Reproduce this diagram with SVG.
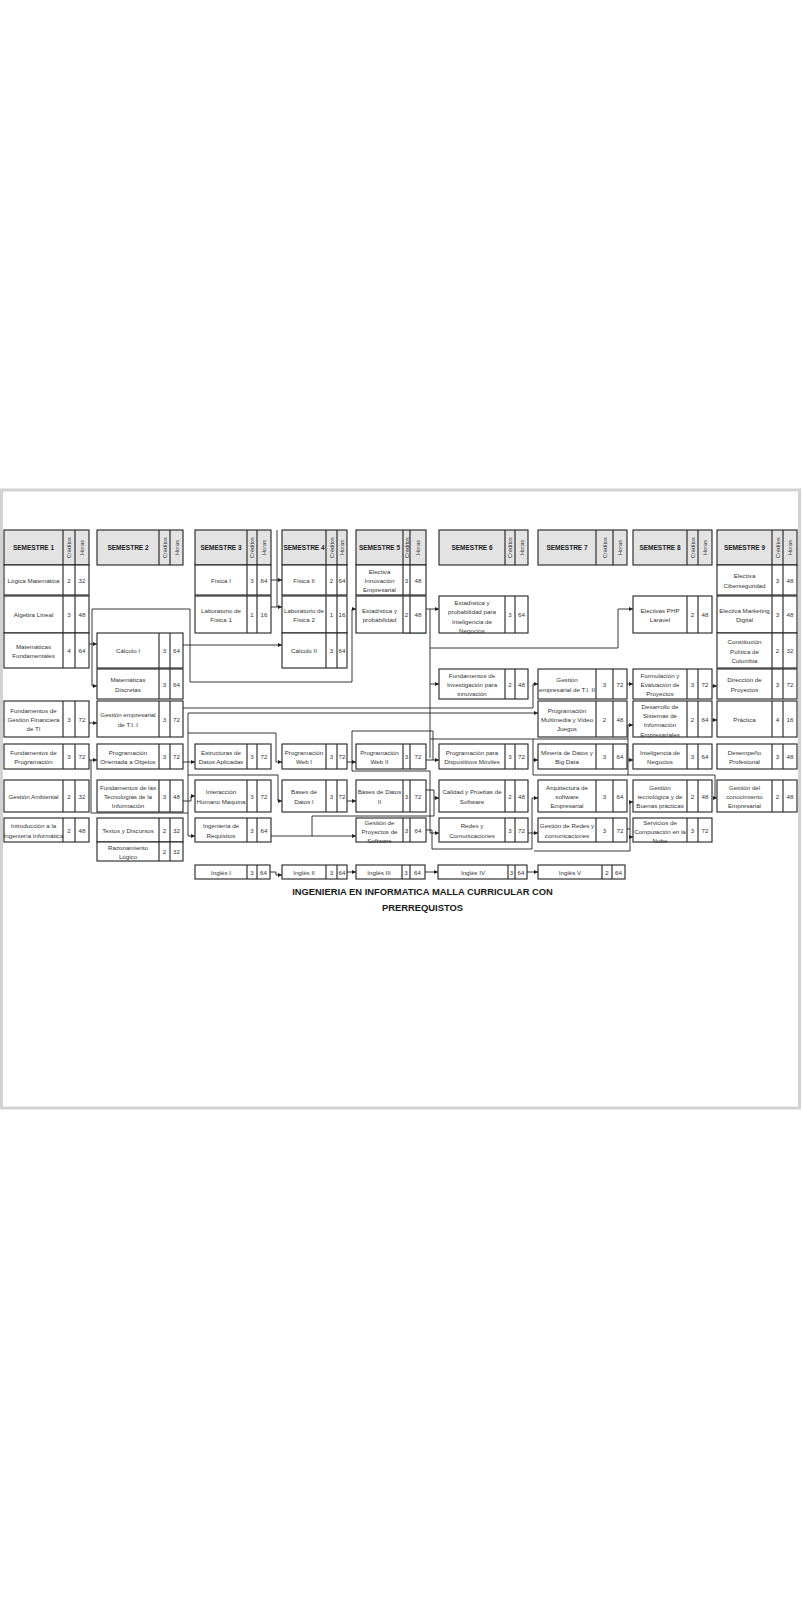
<svg xmlns="http://www.w3.org/2000/svg" width="803" height="1600" viewBox="0 0 803 1600">
<style>
text{font-family:"Liberation Sans",Arial,sans-serif;fill:#333}
.box{fill:#fff;stroke:#222;stroke-width:1.1}
.hd{fill:#e3e3e3}
.dv{fill:none;stroke:#222;stroke-width:1.1}
.t{font-size:6.2px;text-anchor:middle;dominant-baseline:central}
.h{font-size:6.5px;font-weight:bold;text-anchor:middle;dominant-baseline:central;fill:#222}
.r{font-size:5.6px;text-anchor:middle;dominant-baseline:central}
.ttl{font-size:9.4px;font-weight:bold;text-anchor:middle;dominant-baseline:central;fill:#1a1a1a}
.cn path{fill:none;stroke:#222;stroke-width:0.9}
.cn .a{marker-end:url(#ar)}
.cn .g{stroke:#3a9a5a;stroke-width:1.2}
</style>
<defs>
<marker id="ar" viewBox="0 0 6 6" refX="6" refY="3" markerWidth="4" markerHeight="4" markerUnits="userSpaceOnUse" orient="auto"><path d="M0,0L6,3L0,6z" fill="#222"/></marker>
</defs>
<rect width="803" height="1600" fill="#fff"/>
<rect x="1.5" y="490" width="798" height="618" fill="#fff" stroke="#d2d2d2" stroke-width="3"/>

<g id="headers">
<g id="h1"><rect class="box hd" x="4" y="530" width="85" height="35"/><path class="dv" d="M63 530v35M75 530v35"/><text class="h" x="33.5" y="547.5">SEMESTRE 1</text><text class="r" transform="translate(69 547.5) rotate(-90)">Créditos</text><text class="r" transform="translate(82 547.5) rotate(-90)">Horas</text></g>
<g id="h2"><rect class="box hd" x="97" y="530" width="86" height="35"/><path class="dv" d="M159 530v35M170 530v35"/><text class="h" x="128" y="547.5">SEMESTRE 2</text><text class="r" transform="translate(164.5 547.5) rotate(-90)">Créditos</text><text class="r" transform="translate(176.5 547.5) rotate(-90)">Horas</text></g>
<g id="h3"><rect class="box hd" x="195" y="530" width="76" height="35"/><path class="dv" d="M247 530v35M257 530v35"/><text class="h" x="221" y="547.5">SEMESTRE 3</text><text class="r" transform="translate(252 547.5) rotate(-90)">Créditos</text><text class="r" transform="translate(264 547.5) rotate(-90)">Horas</text></g>
<g id="h4"><rect class="box hd" x="282" y="530" width="65" height="35"/><path class="dv" d="M326 530v35M337 530v35"/><text class="h" x="304" y="547.5">SEMESTRE 4</text><text class="r" transform="translate(331.5 547.5) rotate(-90)">Créditos</text><text class="r" transform="translate(342 547.5) rotate(-90)">Horas</text></g>
<g id="h5"><rect class="box hd" x="356" y="530" width="70" height="35"/><path class="dv" d="M403 530v35M410 530v35"/><text class="h" x="379.5" y="547.5">SEMESTRE 5</text><text class="r" transform="translate(406.5 547.5) rotate(-90)">Créditos</text><text class="r" transform="translate(418 547.5) rotate(-90)">Horas</text></g>
<g id="h6"><rect class="box hd" x="439" y="530" width="89" height="35"/><path class="dv" d="M505 530v35M515 530v35"/><text class="h" x="472" y="547.5">SEMESTRE 6</text><text class="r" transform="translate(510 547.5) rotate(-90)">Créditos</text><text class="r" transform="translate(521.5 547.5) rotate(-90)">Horas</text></g>
<g id="h7"><rect class="box hd" x="538" y="530" width="89" height="35"/><path class="dv" d="M596 530v35M613 530v35"/><text class="h" x="567" y="547.5">SEMESTRE 7</text><text class="r" transform="translate(604.5 547.5) rotate(-90)">Créditos</text><text class="r" transform="translate(620 547.5) rotate(-90)">Horas</text></g>
<g id="h8"><rect class="box hd" x="633" y="530" width="79" height="35"/><path class="dv" d="M687 530v35M698 530v35"/><text class="h" x="660" y="547.5">SEMESTRE 8</text><text class="r" transform="translate(692.5 547.5) rotate(-90)">Créditos</text><text class="r" transform="translate(705 547.5) rotate(-90)">Horas</text></g>
<g id="h9"><rect class="box hd" x="717" y="530" width="80" height="35"/><path class="dv" d="M772 530v35M783 530v35"/><text class="h" x="744.5" y="547.5">SEMESTRE 9</text><text class="r" transform="translate(777.5 547.5) rotate(-90)">Créditos</text><text class="r" transform="translate(790 547.5) rotate(-90)">Horas</text></g>
</g>

<g id="connectors" class="cn">
<path class="a" d="M89 644H97"/>
<path class="a" d="M92 644V686H97"/>
<path class="a" d="M92 644V609H190V682H352V609H356"/>
<path class="a" d="M183 645H282"/>
<path class="a" d="M271 580H282"/>
<path class="a" d="M271 607H282"/>
<path d="M277 530V607"/>
<path class="a" d="M89 723H97"/>
<path class="a" d="M89 760H97"/>
<path d="M91 760V813H188"/>
<path class="a" d="M183 762H195"/>
<path class="a" d="M183 801H191V796H195"/>
<path class="a" d="M183 708H533V684H538"/>
<path class="a" d="M188 713H538"/>
<path class="a" d="M188 713V836H195"/>
<path class="a" d="M188 733H276V762H282"/>
<path class="a" d="M188 775H278V801H282"/>
<path class="a" d="M347 762H356"/>
<path class="a" d="M352 762V731H433V760H439"/>
<path d="M426 760H433"/>
<path class="a" d="M352 762V771H430V833H439"/>
<path class="a" d="M347 801H356"/>
<path class="a" d="M426 609H439"/>
<path class="a" d="M430 609V684H439"/>
<path d="M430 684V758"/>
<path class="a" d="M430 648H618V609H633"/>
<path class="a" d="M430 739H628V725H633"/>
<path class="a" d="M628 739V760H633"/>
<path d="M628 760V775"/>
<path class="a" d="M533 739V760H538"/>
<path class="a" d="M533 760V775H715V798H717"/>
<path class="a" d="M426 790H434V798H439"/>
<path class="a" d="M271 836H356"/>
<path d="M312 836V816H434V798"/>
<path class="a" d="M528 833H538"/>
<path d="M426 830H432V849H532"/>
<path class="a" d="M532 849V798H538"/>
<path class="a" d="M534 851H630V802H633"/>
<path class="a" d="M630 837H633"/>
<path d="M627 829H630"/>
<path class="a" d="M627 684H633"/>
<path class="a" d="M712 686H717"/>
<path class="a" d="M712 720H717"/>
<path class="a" d="M270 872H276V875H282"/>
<path class="a" d="M347 872H356"/>
<path class="a" d="M425 872H438"/>
<path class="a" d="M527 872H538"/>
<path class="g" d="M403 633H426"/>
</g>

<g id="sem1">
<g id="logica-matematica"><rect class="box" x="4" y="565" width="85" height="30"/><path class="dv" d="M63 565v30M75 565v30"/><text class="t" x="33.5" y="580">Lógica Matemática</text><text class="t" x="69" y="580">2</text><text class="t" x="82" y="580">32</text></g>
<g id="algebra-lineal"><rect class="box" x="4" y="596" width="85" height="37"/><path class="dv" d="M63 596v37M75 596v37"/><text class="t" x="33.5" y="614.5">Algebra Lineal</text><text class="t" x="69" y="614.5">3</text><text class="t" x="82" y="614.5">48</text></g>
<g id="matematicas-fundamentales"><rect class="box" x="4" y="633" width="85" height="35"/><path class="dv" d="M63 633v35M75 633v35"/><text class="t"><tspan x="33.5" y="645.9">Matemáticas</tspan><tspan x="33.5" y="655.2">Fundamentales</tspan></text><text class="t" x="69" y="650.5">4</text><text class="t" x="82" y="650.5">64</text></g>
<g id="fund-gestion-financiera"><rect class="box" x="4" y="701" width="85" height="36"/><path class="dv" d="M63 701v36M75 701v36"/><text class="t"><tspan x="33.5" y="709.7">Fundamentos de</tspan><tspan x="33.5" y="719">Gestión Financiera</tspan><tspan x="33.5" y="728.3">de TI</tspan></text><text class="t" x="69" y="719">3</text><text class="t" x="82" y="719">72</text></g>
<g id="fund-programacion"><rect class="box" x="4" y="744" width="85" height="25"/><path class="dv" d="M63 744v25M75 744v25"/><text class="t"><tspan x="33.5" y="751.9">Fundamentos de</tspan><tspan x="33.5" y="761.2">Programación</tspan></text><text class="t" x="69" y="756.5">3</text><text class="t" x="82" y="756.5">72</text></g>
<g id="gestion-ambiental"><rect class="box" x="4" y="780" width="85" height="32"/><path class="dv" d="M63 780v32M75 780v32"/><text class="t" x="33.5" y="796">Gestión Ambiental</text><text class="t" x="69" y="796">2</text><text class="t" x="82" y="796">32</text></g>
<g id="introduccion"><rect class="box" x="4" y="818" width="85" height="24"/><path class="dv" d="M63 818v24M75 818v24"/><text class="t"><tspan x="33.5" y="825.4">Introducción a la</tspan><tspan x="33.5" y="834.7">Ingeniería Informática</tspan></text><text class="t" x="69" y="830">2</text><text class="t" x="82" y="830">48</text></g>
</g>

<g id="sem2">
<g id="calculo-1"><rect class="box" x="97" y="633" width="86" height="35"/><path class="dv" d="M159 633v35M170 633v35"/><text class="t" x="128" y="650.5">Cálculo I</text><text class="t" x="164.5" y="650.5">3</text><text class="t" x="176.5" y="650.5">64</text></g>
<g id="matematicas-discretas"><rect class="box" x="97" y="669" width="86" height="30"/><path class="dv" d="M159 669v30M170 669v30"/><text class="t"><tspan x="128" y="679.4">Matemáticas</tspan><tspan x="128" y="688.7">Discretas</tspan></text><text class="t" x="164.5" y="684">3</text><text class="t" x="176.5" y="684">64</text></g>
<g id="gestion-empresarial-1"><rect class="box" x="97" y="701" width="86" height="36"/><path class="dv" d="M159 701v36M170 701v36"/><text class="t"><tspan x="128" y="714.4">Gestión empresarial</tspan><tspan x="128" y="723.7">de T.I. I</tspan></text><text class="t" x="164.5" y="719">3</text><text class="t" x="176.5" y="719">72</text></g>
<g id="poo"><rect class="box" x="97" y="744" width="86" height="25"/><path class="dv" d="M159 744v25M170 744v25"/><text class="t"><tspan x="128" y="751.9">Programación</tspan><tspan x="128" y="761.2">Orientada a Objetos</tspan></text><text class="t" x="164.5" y="756.5">3</text><text class="t" x="176.5" y="756.5">72</text></g>
<g id="fund-tecnologias"><rect class="box" x="97" y="780" width="86" height="32"/><path class="dv" d="M159 780v32M170 780v32"/><text class="t"><tspan x="128" y="786.7">Fundamentos de las</tspan><tspan x="128" y="796">Tecnologías de la</tspan><tspan x="128" y="805.3">Información</tspan></text><text class="t" x="164.5" y="796">3</text><text class="t" x="176.5" y="796">48</text></g>
<g id="textos"><rect class="box" x="97" y="818" width="86" height="24"/><path class="dv" d="M159 818v24M170 818v24"/><text class="t" x="128" y="830">Textos y Discursos</text><text class="t" x="164.5" y="830">2</text><text class="t" x="176.5" y="830">32</text></g>
<g id="razonamiento"><rect class="box" x="97" y="842" width="86" height="19"/><path class="dv" d="M159 842v19M170 842v19"/><text class="t"><tspan x="128" y="846.9">Razonamiento</tspan><tspan x="128" y="856.2">Lógico</tspan></text><text class="t" x="164.5" y="851.5">2</text><text class="t" x="176.5" y="851.5">32</text></g>
</g>

<g id="sem3">
<g id="fisica-1"><rect class="box" x="195" y="565" width="76" height="30"/><path class="dv" d="M247 565v30M257 565v30"/><text class="t" x="221" y="580">Física I</text><text class="t" x="252" y="580">3</text><text class="t" x="264" y="580">64</text></g>
<g id="lab-fisica-1"><rect class="box" x="195" y="596" width="76" height="37"/><path class="dv" d="M247 596v37M257 596v37"/><text class="t"><tspan x="221" y="609.9">Laboratorio de</tspan><tspan x="221" y="619.2">Física 1</tspan></text><text class="t" x="252" y="614.5">1</text><text class="t" x="264" y="614.5">16</text></g>
<g id="estructuras"><rect class="box" x="195" y="744" width="76" height="25"/><path class="dv" d="M247 744v25M257 744v25"/><text class="t"><tspan x="221" y="751.9">Estructuras de</tspan><tspan x="221" y="761.2">Datos Aplicadas</tspan></text><text class="t" x="252" y="756.5">3</text><text class="t" x="264" y="756.5">72</text></g>
<g id="interaccion"><rect class="box" x="195" y="780" width="76" height="32"/><path class="dv" d="M247 780v32M257 780v32"/><text class="t"><tspan x="221" y="791.4">Interacción</tspan><tspan x="221" y="800.7">Humano Maquina</tspan></text><text class="t" x="252" y="796">3</text><text class="t" x="264" y="796">72</text></g>
<g id="ing-requisitos"><rect class="box" x="195" y="818" width="76" height="24"/><path class="dv" d="M247 818v24M257 818v24"/><text class="t"><tspan x="221" y="825.4">Ingeniería de</tspan><tspan x="221" y="834.7">Requisitos</tspan></text><text class="t" x="252" y="830">3</text><text class="t" x="264" y="830">64</text></g>
<g id="ingles-1"><rect class="box" x="195" y="865" width="75" height="14"/><path class="dv" d="M247 865v14M257 865v14"/><text class="t" x="221" y="872">Inglés I</text><text class="t" x="252" y="872">3</text><text class="t" x="263.5" y="872">64</text></g>
</g>

<g id="sem4">
<g id="fisica-2"><rect class="box" x="282" y="565" width="65" height="30"/><path class="dv" d="M326 565v30M337 565v30"/><text class="t" x="304" y="580">Física II</text><text class="t" x="331.5" y="580">2</text><text class="t" x="342" y="580">64</text></g>
<g id="lab-fisica-2"><rect class="box" x="282" y="596" width="65" height="37"/><path class="dv" d="M326 596v37M337 596v37"/><text class="t"><tspan x="304" y="609.9">Laboratorio de</tspan><tspan x="304" y="619.2">Física 2</tspan></text><text class="t" x="331.5" y="614.5">1</text><text class="t" x="342" y="614.5">16</text></g>
<g id="calculo-2"><rect class="box" x="282" y="633" width="65" height="35"/><path class="dv" d="M326 633v35M337 633v35"/><text class="t" x="304" y="650.5">Cálculo II</text><text class="t" x="331.5" y="650.5">3</text><text class="t" x="342" y="650.5">64</text></g>
<g id="web-1"><rect class="box" x="282" y="744" width="65" height="25"/><path class="dv" d="M326 744v25M337 744v25"/><text class="t"><tspan x="304" y="751.9">Programación</tspan><tspan x="304" y="761.2">Web I</tspan></text><text class="t" x="331.5" y="756.5">3</text><text class="t" x="342" y="756.5">72</text></g>
<g id="bd-1"><rect class="box" x="282" y="780" width="65" height="32"/><path class="dv" d="M326 780v32M337 780v32"/><text class="t"><tspan x="304" y="791.4">Bases de</tspan><tspan x="304" y="800.7">Datos I</tspan></text><text class="t" x="331.5" y="796">3</text><text class="t" x="342" y="796">72</text></g>
<g id="ingles-2"><rect class="box" x="282" y="865" width="65" height="14"/><path class="dv" d="M326 865v14M337 865v14"/><text class="t" x="304" y="872">Inglés II</text><text class="t" x="331.5" y="872">3</text><text class="t" x="342" y="872">64</text></g>
</g>

<g id="sem5">
<g id="electiva-innovacion"><rect class="box" x="356" y="565" width="70" height="30"/><path class="dv" d="M403 565v30M410 565v30"/><text class="t"><tspan x="379.5" y="570.7">Electiva</tspan><tspan x="379.5" y="580">Innovación</tspan><tspan x="379.5" y="589.3">Empresarial</tspan></text><text class="t" x="406.5" y="580">3</text><text class="t" x="418" y="580">48</text></g>
<g id="estadistica"><rect class="box" x="356" y="596" width="70" height="37"/><path class="dv" d="M403 596v37M410 596v37"/><text class="t"><tspan x="379.5" y="609.9">Estadística y</tspan><tspan x="379.5" y="619.2">probabilidad</tspan></text><text class="t" x="406.5" y="614.5">2</text><text class="t" x="418" y="614.5">48</text></g>
<g id="web-2"><rect class="box" x="356" y="744" width="70" height="25"/><path class="dv" d="M403 744v25M410 744v25"/><text class="t"><tspan x="379.5" y="751.9">Programación</tspan><tspan x="379.5" y="761.2">Web II</tspan></text><text class="t" x="406.5" y="756.5">3</text><text class="t" x="418" y="756.5">72</text></g>
<g id="bd-2"><rect class="box" x="356" y="780" width="70" height="32"/><path class="dv" d="M403 780v32M410 780v32"/><text class="t"><tspan x="379.5" y="791.4">Bases de Datos</tspan><tspan x="379.5" y="800.7">II</tspan></text><text class="t" x="406.5" y="796">3</text><text class="t" x="418" y="796">72</text></g>
<g id="gestion-proyectos"><rect class="box" x="356" y="818" width="70" height="24"/><path class="dv" d="M403 818v24M410 818v24"/><text class="t"><tspan x="379.5" y="821.7">Gestión de</tspan><tspan x="379.5" y="831">Proyectos de</tspan><tspan x="379.5" y="840.3">Software</tspan></text><text class="t" x="406.5" y="830">3</text><text class="t" x="418" y="830">64</text></g>
<g id="ingles-3"><rect class="box" x="356" y="865" width="69" height="14"/><path class="dv" d="M402 865v14M410 865v14"/><text class="t" x="379" y="872">Inglés III</text><text class="t" x="406" y="872">3</text><text class="t" x="417.5" y="872">64</text></g>
</g>

<g id="sem6">
<g id="estadistica-in"><rect class="box" x="439" y="596" width="89" height="37"/><path class="dv" d="M505 596v37M515 596v37"/><text class="t"><tspan x="472" y="602">Estadística y</tspan><tspan x="472" y="611.3">probabilidad para</tspan><tspan x="472" y="620.6">Inteligencia de</tspan><tspan x="472" y="629.9">Negocios</tspan></text><text class="t" x="510" y="614.5">3</text><text class="t" x="521.5" y="614.5">64</text></g>
<g id="fund-investigacion"><rect class="box" x="439" y="669" width="89" height="30"/><path class="dv" d="M505 669v30M515 669v30"/><text class="t"><tspan x="472" y="674.7">Fundamentos de</tspan><tspan x="472" y="684">Investigación para</tspan><tspan x="472" y="693.3">innovación</tspan></text><text class="t" x="510" y="684">2</text><text class="t" x="521.5" y="684">48</text></g>
<g id="prog-moviles"><rect class="box" x="439" y="744" width="89" height="25"/><path class="dv" d="M505 744v25M515 744v25"/><text class="t"><tspan x="472" y="751.9">Programación para</tspan><tspan x="472" y="761.2">Dispositivos Móviles</tspan></text><text class="t" x="510" y="756.5">3</text><text class="t" x="521.5" y="756.5">72</text></g>
<g id="calidad"><rect class="box" x="439" y="780" width="89" height="32"/><path class="dv" d="M505 780v32M515 780v32"/><text class="t"><tspan x="472" y="791.4">Calidad y Pruebas de</tspan><tspan x="472" y="800.7">Software</tspan></text><text class="t" x="510" y="796">2</text><text class="t" x="521.5" y="796">48</text></g>
<g id="redes"><rect class="box" x="439" y="818" width="89" height="24"/><path class="dv" d="M505 818v24M515 818v24"/><text class="t"><tspan x="472" y="825.4">Redes y</tspan><tspan x="472" y="834.7">Comunicaciones</tspan></text><text class="t" x="510" y="830">3</text><text class="t" x="521.5" y="830">72</text></g>
<g id="ingles-4"><rect class="box" x="438" y="865" width="89" height="14"/><path class="dv" d="M508 865v14M515 865v14"/><text class="t" x="473" y="872">Inglés IV</text><text class="t" x="511.5" y="872">3</text><text class="t" x="521" y="872">64</text></g>
</g>

<g id="sem7">
<g id="gestion-empresarial-2"><rect class="box" x="538" y="669" width="89" height="30"/><path class="dv" d="M596 669v30M613 669v30"/><text class="t"><tspan x="567" y="679.4">Gestión</tspan><tspan x="567" y="688.7">empresarial de T.I. II</tspan></text><text class="t" x="604.5" y="684">3</text><text class="t" x="620" y="684">72</text></g>
<g id="multimedia"><rect class="box" x="538" y="701" width="89" height="36"/><path class="dv" d="M596 701v36M613 701v36"/><text class="t"><tspan x="567" y="709.7">Programación</tspan><tspan x="567" y="719">Multimedia y Video</tspan><tspan x="567" y="728.3">Juegos</tspan></text><text class="t" x="604.5" y="719">2</text><text class="t" x="620" y="719">48</text></g>
<g id="mineria"><rect class="box" x="538" y="744" width="89" height="25"/><path class="dv" d="M596 744v25M613 744v25"/><text class="t"><tspan x="567" y="751.9">Minería de Datos y</tspan><tspan x="567" y="761.2">Big Data</tspan></text><text class="t" x="604.5" y="756.5">3</text><text class="t" x="620" y="756.5">64</text></g>
<g id="arquitectura"><rect class="box" x="538" y="780" width="89" height="32"/><path class="dv" d="M596 780v32M613 780v32"/><text class="t"><tspan x="567" y="786.7">Arquitectura de</tspan><tspan x="567" y="796">software</tspan><tspan x="567" y="805.3">Empresarial</tspan></text><text class="t" x="604.5" y="796">3</text><text class="t" x="620" y="796">64</text></g>
<g id="gestion-redes"><rect class="box" x="538" y="818" width="89" height="24"/><path class="dv" d="M596 818v24M613 818v24"/><text class="t"><tspan x="567" y="825.4">Gestión de Redes y</tspan><tspan x="567" y="834.7">comunicaciones</tspan></text><text class="t" x="604.5" y="830">3</text><text class="t" x="620" y="830">72</text></g>
<g id="ingles-5"><rect class="box" x="538" y="865" width="87" height="14"/><path class="dv" d="M602 865v14M612 865v14"/><text class="t" x="570" y="872">Inglés V</text><text class="t" x="607" y="872">2</text><text class="t" x="618.5" y="872">64</text></g>
</g>

<g id="sem8">
<g id="electivas-php"><rect class="box" x="633" y="596" width="79" height="37"/><path class="dv" d="M687 596v37M698 596v37"/><text class="t"><tspan x="660" y="609.9">Electivas PHP</tspan><tspan x="660" y="619.2">Laravel</tspan></text><text class="t" x="692.5" y="614.5">2</text><text class="t" x="705" y="614.5">48</text></g>
<g id="formulacion"><rect class="box" x="633" y="669" width="79" height="30"/><path class="dv" d="M687 669v30M698 669v30"/><text class="t"><tspan x="660" y="674.7">Formulación y</tspan><tspan x="660" y="684">Evaluación de</tspan><tspan x="660" y="693.3">Proyectos</tspan></text><text class="t" x="692.5" y="684">3</text><text class="t" x="705" y="684">72</text></g>
<g id="desarrollo-si"><rect class="box" x="633" y="701" width="79" height="36"/><path class="dv" d="M687 701v36M698 701v36"/><text class="t"><tspan x="660" y="705.7">Desarrollo de</tspan><tspan x="660" y="715">Sistemas de</tspan><tspan x="660" y="724.3">Información</tspan><tspan x="660" y="733.6">Empresariales</tspan></text><text class="t" x="692.5" y="719">2</text><text class="t" x="705" y="719">64</text></g>
<g id="inteligencia-negocios"><rect class="box" x="633" y="744" width="79" height="25"/><path class="dv" d="M687 744v25M698 744v25"/><text class="t"><tspan x="660" y="751.9">Inteligencia de</tspan><tspan x="660" y="761.2">Negocios</tspan></text><text class="t" x="692.5" y="756.5">3</text><text class="t" x="705" y="756.5">64</text></g>
<g id="gestion-tecnologica"><rect class="box" x="633" y="780" width="79" height="32"/><path class="dv" d="M687 780v32M698 780v32"/><text class="t"><tspan x="660" y="786.7">Gestión</tspan><tspan x="660" y="796">tecnológica y de</tspan><tspan x="660" y="805.3">Buenas prácticas</tspan></text><text class="t" x="692.5" y="796">2</text><text class="t" x="705" y="796">48</text></g>
<g id="servicios-nube"><rect class="box" x="633" y="818" width="79" height="24"/><path class="dv" d="M687 818v24M698 818v24"/><text class="t"><tspan x="660" y="821.7">Servicios de</tspan><tspan x="660" y="831">Computación en la</tspan><tspan x="660" y="840.3">Nube</tspan></text><text class="t" x="692.5" y="830">3</text><text class="t" x="705" y="830">72</text></g>
</g>

<g id="sem9">
<g id="ciberseguridad"><rect class="box" x="717" y="565" width="80" height="30"/><path class="dv" d="M772 565v30M783 565v30"/><text class="t"><tspan x="744.5" y="575.4">Electiva</tspan><tspan x="744.5" y="584.7">Ciberseguridad</tspan></text><text class="t" x="777.5" y="580">3</text><text class="t" x="790" y="580">48</text></g>
<g id="marketing"><rect class="box" x="717" y="596" width="80" height="37"/><path class="dv" d="M772 596v37M783 596v37"/><text class="t"><tspan x="744.5" y="609.9">Electiva Marketing</tspan><tspan x="744.5" y="619.2">Digital</tspan></text><text class="t" x="777.5" y="614.5">3</text><text class="t" x="790" y="614.5">48</text></g>
<g id="constitucion"><rect class="box" x="717" y="633" width="80" height="35"/><path class="dv" d="M772 633v35M783 633v35"/><text class="t"><tspan x="744.5" y="641.2">Constitución</tspan><tspan x="744.5" y="650.5">Política de</tspan><tspan x="744.5" y="659.8">Colombia</tspan></text><text class="t" x="777.5" y="650.5">2</text><text class="t" x="790" y="650.5">32</text></g>
<g id="direccion"><rect class="box" x="717" y="669" width="80" height="30"/><path class="dv" d="M772 669v30M783 669v30"/><text class="t"><tspan x="744.5" y="679.4">Dirección de</tspan><tspan x="744.5" y="688.7">Proyectos</tspan></text><text class="t" x="777.5" y="684">3</text><text class="t" x="790" y="684">72</text></g>
<g id="practica"><rect class="box" x="717" y="701" width="80" height="36"/><path class="dv" d="M772 701v36M783 701v36"/><text class="t" x="744.5" y="719">Práctica</text><text class="t" x="777.5" y="719">4</text><text class="t" x="790" y="719">16</text></g>
<g id="desempeno"><rect class="box" x="717" y="744" width="80" height="25"/><path class="dv" d="M772 744v25M783 744v25"/><text class="t"><tspan x="744.5" y="751.9">Desempeño</tspan><tspan x="744.5" y="761.2">Profesional</tspan></text><text class="t" x="777.5" y="756.5">3</text><text class="t" x="790" y="756.5">48</text></g>
<g id="gestion-conocimiento"><rect class="box" x="717" y="780" width="80" height="32"/><path class="dv" d="M772 780v32M783 780v32"/><text class="t"><tspan x="744.5" y="786.7">Gestión del</tspan><tspan x="744.5" y="796">conocimiento</tspan><tspan x="744.5" y="805.3">Empresarial</tspan></text><text class="t" x="777.5" y="796">2</text><text class="t" x="790" y="796">48</text></g>
</g>

<g id="title">
<text class="ttl" x="422.5" y="891">INGENIERIA EN INFORMATICA MALLA CURRICULAR CON</text>
<text class="ttl" x="422.5" y="907">PRERREQUISTOS</text>
</g>
</svg>
